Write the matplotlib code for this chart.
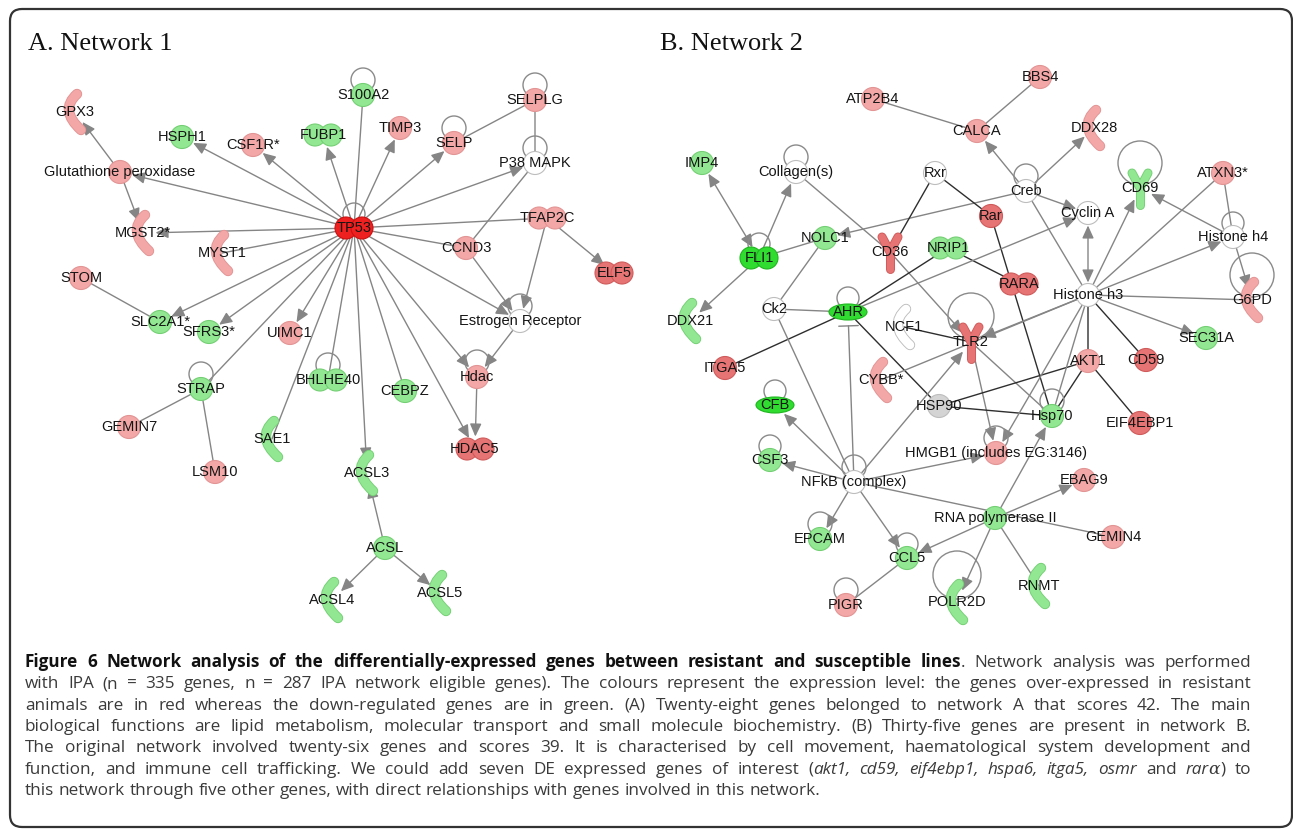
import matplotlib
matplotlib.use('Agg')
import matplotlib.pyplot as plt
from matplotlib.patches import Circle, Ellipse, FancyArrowPatch, FancyBboxPatch, PathPatch
from matplotlib.path import Path

W, H = 1293, 830

# ---------------- Network A ----------------
a_names = ['S100A2', 'SELPLG', 'GPX3', 'HSPH1', 'CSF1R*', 'FUBP1', 'TIMP3', 'SELP',
           'P38 MAPK', 'Glutathione peroxidase', 'TP53', 'TFAP2C', 'MGST2*', 'MYST1',
           'CCND3', 'ELF5', 'STOM', 'Estrogen Receptor', 'SLC2A1*', 'SFRS3*', 'UIMC1',
           'STRAP', 'BHLHE40', 'CEBPZ', 'Hdac', 'GEMIN7', 'SAE1', 'HDAC5', 'LSM10',
           'ACSL3', 'ACSL', 'ACSL4', 'ACSL5']
a_x = [363, 535, 75, 182, 253, 323, 400, 454, 535, 120, 354, 547, 143, 222, 466, 614,
       81, 520, 160, 209, 290, 201, 328, 405, 477, 129, 272, 475, 215, 367, 385, 332, 440]
a_y = [95, 100, 112, 137, 145, 135, 128, 143, 163, 172, 228, 218, 233, 253, 248, 273,
       278, 321, 322, 332, 333, 389, 380, 391, 377, 427, 439, 449, 472, 473, 548, 600, 593]
a_shape = ['c', 'c', 'e', 'c', 'c', 'd', 'c', 'c', 'c', 'c', 'd', 'd', 'e', 'e', 'c', 'd',
           'c', 'c', 'c', 'c', 'c', 'c', 'd', 'c', 'c', 'c', 'e', 'd', 'c', 'e', 'c', 'e', 'e']
a_level = ['dn', 'up', 'up', 'dn', 'up', 'dn', 'up', 'up', 'no', 'up', 'up3', 'up', 'up',
           'up', 'up', 'up2', 'up', 'no', 'dn', 'dn', 'up', 'dn', 'dn', 'dn', 'up', 'up',
           'dn', 'up2', 'up', 'dn', 'dn', 'dn', 'dn']
a_edges = [('TP53', 'Glutathione peroxidase', 'a'), ('Glutathione peroxidase', 'GPX3', 'a'),
           ('Glutathione peroxidase', 'MGST2*', 'a'), ('TP53', 'HSPH1', 'a'),
           ('TP53', 'CSF1R*', 'a'), ('TP53', 'FUBP1', 'a'), ('S100A2', 'TP53', 'l'),
           ('TP53', 'TIMP3', 'a'), ('TP53', 'SELP', 'a'), ('TP53', 'P38 MAPK', 'a'),
           ('SELPLG', 'SELP', 'l'), ('SELPLG', 'P38 MAPK', 'l'), ('P38 MAPK', 'CCND3', 'l'),
           ('TP53', 'MGST2*', 'a'), ('TP53', 'MYST1', 'l'), ('TP53', 'TFAP2C', 'l'),
           ('TFAP2C', 'ELF5', 'a'), ('TFAP2C', 'Estrogen Receptor', 'a'),
           ('TP53', 'CCND3', 'l'), ('CCND3', 'Estrogen Receptor', 'a'),
           ('TP53', 'Estrogen Receptor', 'a'), ('STOM', 'SLC2A1*', 'l'),
           ('TP53', 'SLC2A1*', 'a'), ('TP53', 'SFRS3*', 'a'), ('TP53', 'UIMC1', 'a'),
           ('TP53', 'STRAP', 'l'), ('TP53', 'SAE1', 'l'), ('TP53', 'BHLHE40', 'l'),
           ('TP53', 'ACSL3', 'a'), ('TP53', 'CEBPZ', 'l'), ('TP53', 'HDAC5', 'a'),
           ('TP53', 'Hdac', 'a'), ('Estrogen Receptor', 'Hdac', 'a'), ('Hdac', 'HDAC5', 'a'),
           ('STRAP', 'GEMIN7', 'l'), ('STRAP', 'LSM10', 'l'), ('ACSL', 'ACSL3', 'a'),
           ('ACSL', 'ACSL4', 'a'), ('ACSL', 'ACSL5', 'a')]
a_loops = [('S100A2', 12), ('SELPLG', 12), ('SELP', 12), ('P38 MAPK', 12), ('TP53', 11),
           ('Estrogen Receptor', 12), ('Hdac', 12), ('STRAP', 12), ('BHLHE40', 12)]

# ---------------- Network B ----------------
b_names = ['BBS4', 'ATP2B4', 'CALCA', 'DDX28', 'IMP4', 'Collagen(s)', 'Rxr', 'Creb', 'CD69',
           'ATXN3*', 'Rar', 'Cyclin A', 'Histone h4', 'NOLC1', 'FLI1', 'CD36', 'NRIP1',
           'RARA', 'Histone h3', 'G6PD', 'Ck2', 'AHR', 'DDX21', 'NCF1', 'TLR2', 'SEC31A',
           'AKT1', 'CD59', 'ITGA5', 'CYBB*', 'CFB', 'HSP90', 'Hsp70', 'EIF4EBP1',
           'HMGB1 (includes EG:3146)', 'CSF3', 'NFkB (complex)', 'EBAG9',
           'RNA polymerase II', 'GEMIN4', 'EPCAM', 'CCL5', 'RNMT', 'PIGR', 'POLR2D']
b_x = [1040, 873, 977, 1094, 702, 796, 935, 1026, 1140, 1223, 991, 1088, 1233, 825, 759,
       890, 948, 1019, 1088, 1252, 774, 848, 690, 904, 971, 1206, 1088, 1146, 725, 881,
       775, 939, 1052, 1140, 996, 770, 854, 1084, 995, 1113, 820, 907, 1039, 846, 957]
b_y = [77, 99, 131, 128, 163, 172, 173, 191, 188, 173, 216, 213, 237, 238, 258, 252, 248,
       284, 295, 300, 309, 312, 321, 327, 342, 338, 361, 360, 368, 380, 405, 406, 416, 423,
       453, 460, 482, 480, 518, 537, 539, 558, 586, 605, 602]
b_shape = ['c', 'c', 'c', 'e', 'c', 'c', 'c', 'c', 'y', 'c', 'c', 'c', 'c', 'c', 'd', 'y',
           'd', 'd', 'c', 'e', 'c', 'l', 'e', 'e', 'y', 'c', 'c', 'c', 'c', 'e', 'l', 'c',
           'c', 'c', 'c', 'c', 'c', 'c', 'c', 'c', 'c', 'c', 'e', 'c', 'e']
b_level = ['up', 'up', 'up', 'up', 'dn', 'no', 'no', 'no', 'dn', 'up', 'up2', 'no', 'no',
           'dn', 'dn2', 'up2', 'dn', 'up2', 'no', 'up', 'no', 'dn2', 'dn', 'no', 'up2', 'dn',
           'up', 'up2', 'up2', 'up', 'dn2', 'gr', 'dn', 'up2', 'up', 'dn', 'no', 'up', 'dn',
           'up', 'dn', 'dn', 'dn', 'up', 'dn']
# 'k' = dark direct link, 'i' = inhibition bar at the source
b_edges = [('BBS4', 'CALCA', 'l'), ('ATP2B4', 'CALCA', 'l'), ('Creb', 'CALCA', 'a'),
           ('Creb', 'DDX28', 'a'), ('Creb', 'NOLC1', 'a'), ('Creb', 'Cyclin A', 'a'),
           ('Creb', 'Histone h3', 'l'), ('IMP4', 'FLI1', 'b'), ('FLI1', 'Collagen(s)', 'a'),
           ('FLI1', 'DDX21', 'a'), ('FLI1', 'NOLC1', 'l'), ('Collagen(s)', 'CD36', 'l'),
           ('CD36', 'TLR2', 'a'), ('Rxr', 'CD36', 'k'), ('Rxr', 'Rar', 'k'),
           ('Rar', 'Hsp70', 'k'), ('NRIP1', 'RARA', 'k'), ('NRIP1', 'AHR', 'k'),
           ('AHR', 'ITGA5', 'k'), ('AHR', 'Cyclin A', 'a'), ('Ck2', 'AHR', 'l'),
           ('NOLC1', 'Ck2', 'l'), ('Ck2', 'NFkB (complex)', 'l'),
           ('AHR', 'NFkB (complex)', 'i'), ('AHR', 'HSP90', 'k'), ('NCF1', 'TLR2', 'k'),
           ('Histone h3', 'TLR2', 'a'), ('TLR2', 'Hsp70', 'l'),
           ('TLR2', 'HMGB1 (includes EG:3146)', 'a'), ('CYBB*', 'Histone h3', 'l'),
           ('HSP90', 'AKT1', 'k'), ('HSP90', 'Hsp70', 'k'), ('AKT1', 'Hsp70', 'k'),
           ('AKT1', 'EIF4EBP1', 'k'), ('Histone h3', 'AKT1', 'k'), ('Histone h3', 'CD59', 'k'),
           ('Histone h3', 'Cyclin A', 'b'), ('Histone h3', 'CD69', 'a'),
           ('Histone h3', 'Histone h4', 'a'), ('Histone h3', 'G6PD', 'l'),
           ('Histone h3', 'SEC31A', 'a'), ('Histone h3', 'Hsp70', 'l'),
           ('Histone h3', 'HMGB1 (includes EG:3146)', 'a'), ('Histone h3', 'ATXN3*', 'l'),
           ('ATXN3*', 'Histone h4', 'l'), ('Histone h4', 'CD69', 'a'),
           ('Histone h4', 'G6PD', 'a'), ('NFkB (complex)', 'TLR2', 'a'),
           ('NFkB (complex)', 'CFB', 'a'), ('NFkB (complex)', 'CSF3', 'a'),
           ('NFkB (complex)', 'HMGB1 (includes EG:3146)', 'a'),
           ('NFkB (complex)', 'EPCAM', 'a'), ('NFkB (complex)', 'CCL5', 'a'),
           ('NFkB (complex)', 'GEMIN4', 'l'), ('RNA polymerase II', 'Hsp70', 'a'),
           ('RNA polymerase II', 'EBAG9', 'a'), ('RNA polymerase II', 'CCL5', 'a'),
           ('RNA polymerase II', 'POLR2D', 'a'), ('RNA polymerase II', 'RNMT', 'l'),
           ('CCL5', 'PIGR', 'l')]
b_loops = [('Collagen(s)', 12), ('Creb', 12), ('CD69', 22), ('Histone h4', 11),
           ('G6PD', 22), ('FLI1', 11), ('AHR', 11), ('TLR2', 23), ('Hsp70', 12),
           ('HMGB1 (includes EG:3146)', 12), ('CFB', 11), ('CSF3', 11),
           ('NFkB (complex)', 12), ('EPCAM', 12), ('CCL5', 11), ('PIGR', 12), ('POLR2D', 24)]

# ---------------- caption ----------------
cap_lines = [
    [('Figure 6 Network analysis of the differentially-expressed genes between resistant and susceptible lines', 'b'),
     ('. Network analysis was performed', 'r')],
    [('with IPA (n = 335 genes, n = 287 IPA network eligible genes). The colours represent the expression level: the genes over-expressed in resistant', 'r')],
    [('animals are in red whereas the down-regulated genes are in green. (A) Twenty-eight genes belonged to network A that scores 42. The main', 'r')],
    [('biological functions are lipid metabolism, molecular transport and small molecule biochemistry. (B) Thirty-five genes are present in network B.', 'r')],
    [('The original network involved twenty-six genes and scores 39. It is characterised by cell movement, haematological system development and', 'r')],
    [('function, and immune cell trafficking. We could add seven DE expressed genes of interest (', 'r'),
     ('akt1, cd59, eif4ebp1, hspa6, itga5, osmr', 'i'), (' and ', 'r'), ('rar', 'i'), ('α', 'g'),
     (') to', 'r')],
    [('this network through five other genes, with direct relationships with genes involved in this network.', 'r')],
]

FILL = {'up': '#f3a7a7', 'up2': '#e77474', 'up3': '#ee2020', 'dn': '#92e892',
        'dn2': '#2fdc2f', 'no': '#ffffff', 'gr': '#d4d4d4'}
EDGE = {'up': '#e39494', 'up2': '#d05a5a', 'up3': '#cc1010', 'dn': '#74cf74',
        'dn2': '#1fb51f', 'no': '#bdbdbd', 'gr': '#bdbdbd'}
GENE_FONT = ['Liberation Sans', 'DejaVu Sans']

fig = plt.figure(figsize=(W / 100, H / 100), dpi=100)
ax = fig.add_axes([0, 0, 1, 1])
ax.set_xlim(0, W)
ax.set_ylim(H, 0)
ax.axis('off')


def draw_node(x, y, shape, lev):
    fc, ec = FILL[lev], EDGE[lev]
    if shape == 'c':
        ax.add_patch(Circle((x, y), 11.5, fc=fc, ec=ec, lw=0.8, zorder=3))
    elif shape == 'd':
        for dx in (-8, 8):
            ax.add_patch(Circle((x + dx, y), 11, fc=fc, ec=ec, lw=0.8, zorder=3))
    elif shape == 'l':
        ax.add_patch(Ellipse((x, y), 38, 16, fc=fc, ec=ec, lw=0.8, zorder=3))
    elif shape == 'e':
        p = Path([(x + 2, y - 18), (x - 16, y - 2), (x + 6, y + 18)],
                 [Path.MOVETO, Path.CURVE3, Path.CURVE3])
        ax.add_patch(PathPatch(p, fc='none', ec=ec, lw=7.5, capstyle='round', zorder=3))
        ax.add_patch(PathPatch(p, fc='none', ec=fc, lw=6.2, capstyle='round', zorder=3))
    elif shape == 'y':
        for lw, col in ((6.5, ec), (5.2, fc)):
            ax.plot([x, x], [y, y + 17], color=col, lw=lw, solid_capstyle='round', zorder=3)
            ax.plot([x - 8, x, x + 8], [y - 15, y, y - 15], color=col, lw=lw,
                    solid_capstyle='round', solid_joinstyle='round', zorder=3)


def draw_network(names, xs, ys, shapes, levels, edges, loops):
    pos = {n: (x, y) for n, x, y in zip(names, xs, ys)}
    for n, r in loops:
        x, y = pos[n]
        ax.add_patch(Circle((x, y - r - 3), r, fc='none', ec='#8a8a8a', lw=1.0, zorder=2))
    for s, t, kind in edges:
        col = '#2e2e2e' if kind == 'k' else '#858585'
        if kind == 'a':
            style, sa, sb = '-|>,head_length=0.55,head_width=0.25', 0, 9
        elif kind == 'b':
            style, sa, sb = '<|-|>,head_length=0.55,head_width=0.25', 9, 9
        elif kind == 'i':
            style, sa, sb = ']-,widthA=0.5,lengthA=0', 10, 0
        else:
            style, sa, sb = '-', 0, 0
        ax.add_patch(FancyArrowPatch(pos[s], pos[t], arrowstyle=style, mutation_scale=14,
                                     shrinkA=sa, shrinkB=sb, color=col, lw=1.0, zorder=1))
    for n, x, y, sh, lev in zip(names, xs, ys, shapes, levels):
        draw_node(x, y, sh, lev)
        ax.text(x, y, n, ha='center', va='center', fontsize=10.5, color='#151515',
                family=GENE_FONT, zorder=5)


draw_network(a_names, a_x, a_y, a_shape, a_level, a_edges, a_loops)
draw_network(b_names, b_x, b_y, b_shape, b_level, b_edges, b_loops)

ax.text(28, 44, 'A. Network 1', fontsize=19, family=['Liberation Serif', 'DejaVu Serif'],
        ha='left', va='center', color='#111111')
ax.text(660, 44, 'B. Network 2', fontsize=19, family=['Liberation Serif', 'DejaVu Serif'],
        ha='left', va='center', color='#111111')

# frame around the whole figure
ax.add_patch(FancyBboxPatch((10, 9), 1282, 818, boxstyle='round,pad=0,rounding_size=12',
                            fc='none', ec='#333333', lw=1.6, zorder=0))

# caption, justified between left and right edge
renderer = fig.canvas.get_renderer()
CAP_SIZE = 12.3
CAP_FONT = ['Open Sans', 'DejaVu Sans']
STYLE = {'r': dict(weight='normal', style='normal', color='#3a3a3a', family=CAP_FONT),
         'b': dict(weight='bold', style='normal', color='#111111', family=CAP_FONT),
         'i': dict(weight='normal', style='italic', color='#3a3a3a', family=CAP_FONT),
         'g': dict(weight='normal', style='italic', color='#3a3a3a',
                   family=['DejaVu Serif'])}


def piece_width(text, st):
    t = ax.text(0, 0, text, fontsize=CAP_SIZE, **STYLE[st])
    w = t.get_window_extent(renderer).width
    t.remove()
    return w


def tokenize(runs):
    words = [[]]
    for text, st in runs:
        for i, p in enumerate(text.split(' ')):
            if i > 0:
                words.append([])
            if p:
                words[-1].append((p, st))
    return [w for w in words if w]


x_left, x_right = 25, 1251
y0, dy = 667, 21.3
space_w = piece_width('a a', 'r') - 2 * piece_width('a', 'r')
for k, runs in enumerate(cap_lines):
    words = tokenize(runs)
    widths = [[piece_width(p, st) for p, st in w] for w in words]
    total = sum(sum(ws) for ws in widths)
    if k < len(cap_lines) - 1:
        gap = max((x_right - x_left - total) / (len(words) - 1), 0.6 * space_w)
    else:
        gap = space_w
    x = x_left
    for w, ws in zip(words, widths):
        for (p, st), pw in zip(w, ws):
            ax.text(x, y0 + k * dy, p, fontsize=CAP_SIZE, ha='left', va='baseline',
                    **STYLE[st])
            x += pw
        x += gap

fig.savefig('out.png', dpi=100)
